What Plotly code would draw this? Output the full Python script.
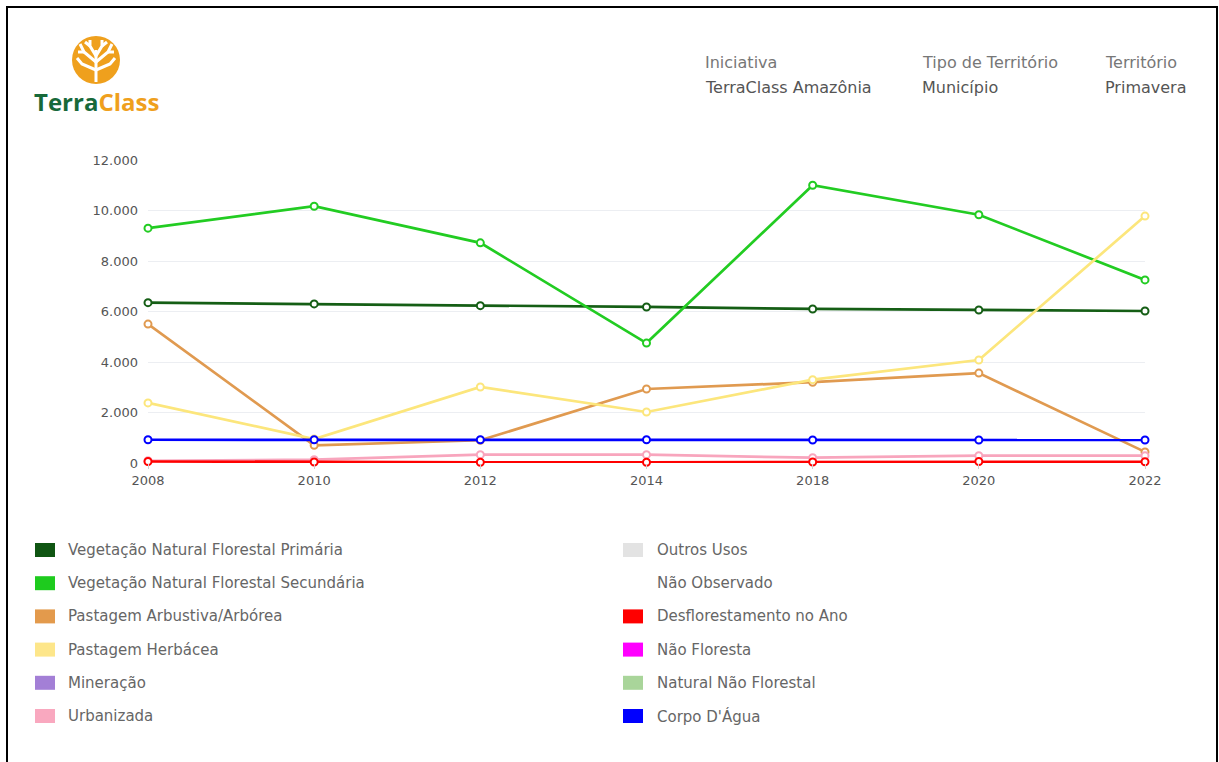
import plotly.graph_objects as go

W, H = 1219, 762

years = ["2008", "2010", "2012", "2014", "2018", "2020", "2022"]

veg_primaria = [6350, 6300, 6230, 6180, 6100, 6060, 6020]
veg_secundaria = [9300, 10170, 8720, 4750, 11000, 9830, 7250]
past_arbustiva = [5500, 700, 900, 2930, 3200, 3560, 440]
past_herbacea = [2380, 950, 3010, 2020, 3300, 4080, 9780]
urbanizada = [90, 130, 330, 330, 210, 290, 290]
desflorestamento = [60, 40, 30, 30, 40, 60, 50]
corpo_agua = [920, 920, 920, 920, 910, 910, 910]

series = [
    ("Vegetação Natural Florestal Primária", veg_primaria, "#155e15"),
    ("Vegetação Natural Florestal Secundária", veg_secundaria, "#22cc22"),
    ("Pastagem Arbustiva/Arbórea", past_arbustiva, "#e09a50"),
    ("Pastagem Herbácea", past_herbacea, "#fce67c"),
    ("Urbanizada", urbanizada, "#f8a5bd"),
    ("Desflorestamento no Ano", desflorestamento, "#ff0000"),
    ("Corpo D'Água", corpo_agua, "#0000ff"),
]

legend_left = [
    ("Vegetação Natural Florestal Primária", "#0f5512"),
    ("Vegetação Natural Florestal Secundária", "#1ecb1e"),
    ("Pastagem Arbustiva/Arbórea", "#e39a4c"),
    ("Pastagem Herbácea", "#fde68a"),
    ("Mineração", "#a37fd6"),
    ("Urbanizada", "#f9a8bf"),
]
legend_right = [
    ("Outros Usos", "#e3e3e3"),
    ("Não Observado", "#ffffff"),
    ("Desflorestamento no Ano", "#ff0000"),
    ("Não Floresta", "#ff00ff"),
    ("Natural Não Florestal", "#a9d59a"),
    ("Corpo D'Água", "#0000ff"),
]

header = [("Iniciativa", "TerraClass Amazônia", 703),
          ("Tipo de Território", "Município", 920),
          ("Território", "Primavera", 1103)]


def px(x):
    return x / W


def py(y):
    return 1 - y / H


fig = go.Figure()
for name, vals, col in series:
    fig.add_trace(go.Scatter(
        x=years, y=vals, name=name, mode="lines+markers",
        line=dict(color=col, width=2.7),
        marker=dict(symbol="circle", size=7, color="white",
                    line=dict(color=col, width=2)),
        cliponaxis=False, showlegend=False,
    ))

FONT = "DejaVu Sans"
shapes = []
annotations = []

# frame
shapes.append(dict(type="rect", xref="paper", yref="paper",
                   x0=px(7), x1=px(1217), y0=py(7), y1=py(780),
                   line=dict(color="black", width=2), fillcolor="rgba(0,0,0,0)"))

# logo circle
cx, cy, r = 96, 60, 24
shapes.append(dict(type="circle", xref="paper", yref="paper",
                   x0=px(cx - r), x1=px(cx + r), y0=py(cy + r), y1=py(cy - r),
                   line=dict(width=0), fillcolor="#efa01d"))
# tree (white strokes)
tree_paths = [
    [(96, 82), (96, 50)],
    [(96, 62), (84, 52), (80, 44)],
    [(96, 62), (108, 52), (112, 44)],
    [(96, 56), (90, 46), (90, 40)],
    [(96, 56), (102, 46), (102, 40)],
    [(96, 70), (82, 64), (77, 58)],
    [(96, 70), (110, 64), (115, 58)],
    [(84, 52), (78, 52)],
    [(108, 52), (114, 52)],
    [(90, 46), (85, 42)],
    [(102, 46), (107, 42)],
]
for pts in tree_paths:
    d = "M " + " L ".join(f"{px(x):.5f},{py(y):.5f}" for x, y in pts)
    shapes.append(dict(type="path", xref="paper", yref="paper", path=d,
                       line=dict(color="white", width=3)))

annotations.append(dict(
    x=px(32), y=py(101), xref="paper", yref="paper", xanchor="left", yanchor="middle",
    text="<b><span style='color:#17693a'>Terra</span><span style='color:#efa01d'>Class</span></b>",
    showarrow=False, font=dict(family="Open Sans", size=24)))

for lab, val, x in header:
    annotations.append(dict(x=px(x), y=py(62), xref="paper", yref="paper",
                            xanchor="left", yanchor="middle", text=lab, showarrow=False,
                            font=dict(family=FONT, size=16, color="#777777")))
    annotations.append(dict(x=px(x), y=py(88), xref="paper", yref="paper",
                            xanchor="left", yanchor="middle", text=val, showarrow=False,
                            font=dict(family=FONT, size=16, color="#555555")))

# legend
for col_items, sx, tx in [(legend_left, 35, 66), (legend_right, 623, 655)]:
    for i, (lab, c) in enumerate(col_items):
        yc = 550 + i * 33.2
        if c.lower() != "#ffffff":
            shapes.append(dict(type="rect", xref="paper", yref="paper",
                               x0=px(sx), x1=px(sx + 20), y0=py(yc + 7), y1=py(yc - 7),
                               line=dict(width=0), fillcolor=c))
        annotations.append(dict(x=px(tx), y=py(yc), xref="paper", yref="paper",
                                xanchor="left", yanchor="middle", text=lab, showarrow=False,
                                font=dict(family=FONT, size=15, color="#666666")))

fig.update_layout(
    width=W, height=H, autosize=False,
    margin=dict(l=0, r=0, t=0, b=0, pad=0, autoexpand=False),
    paper_bgcolor="white", plot_bgcolor="white",
    separators=",.",
    shapes=shapes, annotations=annotations,
    xaxis=dict(type="category", domain=[px(148), px(1145)], range=[0, 6],
               automargin=False,
               showgrid=False, zeroline=False, showline=False,
               ticks="outside", ticklen=5, tickcolor="#d0d0d0",
               tickfont=dict(family=FONT, size=13, color="#555555")),
    yaxis=dict(domain=[py(463), py(160)], range=[0, 12000], dtick=2000,
               automargin=False,
               tickformat=",d", showgrid=True, gridcolor="#eceef2", gridwidth=1,
               zeroline=False, showline=False, ticks="", ticklabelstandoff=9,
               tickfont=dict(family=FONT, size=13, color="#555555")),
    showlegend=False,
)

fig.write_html("out.html")
